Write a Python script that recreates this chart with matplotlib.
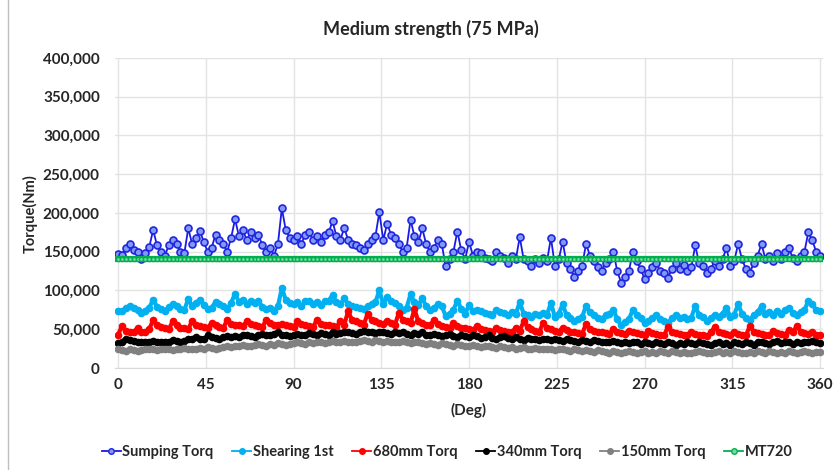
import numpy as np
import matplotlib
matplotlib.use("Agg")
import matplotlib.pyplot as plt
from matplotlib.lines import Line2D
from matplotlib.ticker import FuncFormatter, MultipleLocator

plt.rcParams['font.family'] = ['Lato', 'DejaVu Sans']

deg = np.arange(0, 361, 2)

sumping = [
    147, 146, 155, 160, 152, 150, 140, 148, 156, 178,
    158, 150, 145, 158, 165, 160, 150, 148, 180, 160,
    168, 177, 162, 150, 155, 172, 165, 160, 150, 168,
    192, 170, 178, 165, 175, 168, 172, 158, 150, 155,
    145, 160, 206, 178, 168, 165, 170, 160, 172, 175,
    165, 170, 162, 172, 175, 189, 170, 165, 181, 165,
    160, 158, 155, 152, 160, 165, 170, 201, 165, 186,
    172, 168, 160, 150, 155, 191, 170, 162, 180, 160,
    150, 155, 165, 160, 131, 140, 150, 176, 152, 140,
    163, 145, 150, 148, 142, 140, 138, 150, 145, 142,
    135, 145, 140, 169, 140, 138, 132, 140, 135, 142,
    138, 168, 132, 140, 163, 135, 128, 118, 125, 132,
    160, 145, 138, 130, 125, 135, 140, 150, 125, 110,
    118, 125, 150, 138, 128, 115, 122, 130, 135, 125,
    122, 116, 128, 135, 128, 133, 125, 130, 158, 135,
    132, 122, 128, 138, 132, 140, 155, 132, 138, 160,
    140, 128, 123, 135, 145, 160, 140, 145, 138, 148,
    140, 150, 155, 142, 138, 145, 150, 175, 165, 150,
    145]

shearing = [
    74, 73, 77, 80, 77, 75, 71, 74, 78, 88,
    79, 76, 73, 79, 82, 80, 76, 75, 89, 80,
    84, 88, 81, 76, 78, 85, 82, 80, 76, 84,
    96, 85, 88, 82, 87, 84, 86, 79, 76, 78,
    73, 80, 103, 88, 84, 82, 85, 80, 86, 87,
    82, 85, 81, 86, 87, 94, 85, 82, 90, 82,
    80, 79, 78, 76, 80, 82, 85, 100, 82, 92,
    86, 84, 80, 75, 78, 95, 85, 81, 90, 80,
    75, 78, 82, 80, 67, 70, 75, 87, 76, 70,
    81, 73, 75, 74, 71, 70, 69, 75, 72, 71,
    68, 72, 70, 85, 70, 69, 66, 70, 68, 71,
    69, 84, 66, 70, 82, 68, 64, 60, 63, 66,
    80, 72, 69, 65, 63, 68, 70, 75, 63, 55,
    59, 63, 75, 69, 64, 58, 61, 65, 68, 63,
    61, 58, 64, 68, 64, 66, 63, 65, 80, 68,
    66, 61, 64, 69, 66, 70, 78, 66, 69, 82,
    70, 64, 62, 68, 72, 80, 70, 72, 69, 74,
    70, 75, 78, 71, 69, 72, 75, 86, 82, 75,
    73]

torq680 = [
    43, 54, 48, 47, 46, 52, 47, 46, 50, 62,
    55, 53, 51, 50, 60, 55, 52, 51, 50, 61,
    56, 54, 53, 52, 58, 55, 53, 52, 62, 57,
    56, 55, 54, 60, 57, 55, 54, 53, 62, 58,
    56, 55, 57, 56, 54, 53, 60, 57, 55, 54,
    53, 62, 57, 56, 55, 54, 53, 60, 56, 73,
    62, 60, 58, 56, 70, 62, 60, 58, 57, 60,
    58, 56, 71, 62, 60, 58, 76, 60, 58, 56,
    55, 62, 57, 54, 53, 52, 58, 54, 52, 51,
    50, 49, 54, 50, 49, 48, 47, 52, 49, 48,
    47, 46, 52, 48, 60, 53, 50, 48, 47, 58,
    52, 50, 48, 47, 52, 49, 47, 46, 45, 44,
    57, 50, 48, 47, 46, 45, 44, 50, 46, 45,
    44, 48, 46, 45, 44, 43, 48, 45, 44, 43,
    42, 53, 47, 45, 44, 43, 42, 47, 44, 43,
    42, 41, 46, 53, 47, 45, 44, 43, 47, 44,
    43, 42, 54, 47, 45, 44, 43, 42, 48, 45,
    44, 43, 49, 46, 54, 47, 45, 44, 46, 43,
    42]

torq340 = [
    32, 34, 38, 36, 35, 34, 33, 34, 33, 35,
    34, 33, 33, 34, 36, 35, 34, 35, 37, 38,
    40, 38, 37, 42, 40, 39, 38, 40, 41, 40,
    41, 40, 42, 43, 41, 40, 42, 44, 43, 42,
    44, 46, 43, 42, 41, 43, 44, 42, 43, 45,
    44, 43, 45, 44, 43, 46, 44, 45, 47, 46,
    45, 44, 46, 48, 47, 46, 45, 47, 46, 45,
    44, 46, 45, 47, 44, 43, 45, 44, 46, 43,
    42, 44, 43, 41, 42, 44, 41, 40, 42, 41,
    40, 42, 41, 39, 40, 42, 39, 38, 40, 41,
    39, 38, 40, 37, 36, 39, 38, 37, 36, 38,
    37, 36, 38, 36, 35, 37, 36, 35, 34, 36,
    35, 34, 36, 35, 33, 34, 33, 35, 34, 32,
    33, 32, 34, 33, 31, 34, 32, 31, 33, 32,
    31, 33, 32, 30, 32, 31, 33, 32, 31, 33,
    32, 31, 30, 32, 33, 31, 32, 30, 33, 32,
    31, 33, 32, 30, 34, 33, 32, 31, 33, 35,
    32, 34, 33, 31, 33, 32, 34, 33, 35, 33,
    32]

torq150 = [
    24, 23, 22, 24, 23, 22, 23, 24, 25, 24,
    23, 24, 25, 24, 23, 24, 25, 26, 25, 24,
    25, 26, 25, 27, 26, 25, 26, 27, 28, 27,
    28, 29, 30, 29, 28, 30, 31, 30, 29, 31,
    30, 32, 31, 30, 31, 32, 33, 32, 31, 33,
    32, 34, 33, 32, 34, 35, 34, 33, 35, 34,
    33, 34, 35, 36, 35, 34, 36, 35, 34, 35,
    34, 33, 34, 35, 33, 32, 34, 33, 32, 31,
    32, 31, 30, 32, 31, 30, 29, 31, 30, 29,
    28, 30, 29, 27, 28, 29, 27, 26, 28, 27,
    26, 27, 25, 26, 27, 25, 24, 26, 25, 24,
    25, 24, 23, 25, 24, 23, 22, 24, 23, 22,
    23, 22, 21, 23, 22, 21, 20, 22, 21, 20,
    21, 22, 21, 19, 21, 22, 20, 21, 20, 22,
    21, 20, 22, 21, 20, 21, 19, 20, 21, 22,
    21, 20, 19, 21, 22, 20, 21, 20, 22, 21,
    20, 19, 21, 20, 22, 21, 20, 22, 21, 20,
    21, 20, 22, 21, 20, 21, 22, 21, 20, 21,
    21]

mt720_value = 140  # constant reference line (thousand Nm)
mt720 = [mt720_value] * len(deg)

labels = ['Sumping Torq', 'Shearing 1st', '680mm Torq', '340mm Torq',
          '150mm Torq', 'MT720']
xticks = [0, 45, 90, 135, 180, 225, 270, 315, 360]

fig = plt.figure(figsize=(8.36, 4.70), dpi=100)
ax = fig.add_axes([0.1377, 0.217, 0.8467, 0.660])

scale = 1000
ax.plot(deg, np.array(sumping) * scale, color='#1A1AE6', lw=1.3, marker='o',
        ms=5, mfc='#7D9BF5', mec='#2323E0', mew=1.2, label=labels[0], zorder=3)
ax.plot(deg, np.array(shearing) * scale, color='#00B0F0', lw=3, marker='o',
        ms=4.5, mec='#00B0F0', mfc='#00B0F0', label=labels[1], zorder=3)
ax.plot(deg, np.array(torq680) * scale, color='#FF0000', lw=3, marker='o',
        ms=4.5, mec='#FF0000', mfc='#FF0000', label=labels[2], zorder=3)
ax.plot(deg, np.array(torq340) * scale, color='#000000', lw=3, marker='o',
        ms=4.5, mec='#000000', mfc='#000000', label=labels[3], zorder=3)
ax.plot(deg, np.array(torq150) * scale, color='#808080', lw=3, marker='o',
        ms=4.5, mec='#808080', mfc='#808080', label=labels[4], zorder=3)
ax.plot(deg, np.array(mt720) * scale, color='#00B050', lw=4.5, marker='o',
        ms=3, mec='#00B050', mfc='#7FD8A0', label=labels[5], zorder=4)

ax.set_xlim(-1.5, 361.5)
ax.set_ylim(0, 400000)
ax.set_xticks(xticks)
ax.yaxis.set_major_locator(MultipleLocator(50000))
ax.yaxis.set_major_formatter(FuncFormatter(lambda v, p: f"{int(v):,}"))
ax.grid(True, color='#E3E3E3', lw=1)
ax.set_axisbelow(True)
for s in ['top', 'right', 'left']:
    ax.spines[s].set_visible(False)
ax.spines['bottom'].set_color('#D9D9D9')
ax.tick_params(length=0, labelsize=11)
ax.tick_params(axis='y', pad=11)
ax.tick_params(axis='x', pad=7)
for t in ax.get_xticklabels() + ax.get_yticklabels():
    t.set_fontweight('bold')
    t.set_color('#262626')

ax.set_xlabel('(Deg)', fontsize=11, fontweight='bold', color='#262626', labelpad=8)
fig.text(0.036, 0.545, 'Torque(Nm)', rotation=90, fontsize=10.5, fontweight='bold',
         color='#262626', ha='center', va='center')
fig.text(0.515, 0.938, 'Medium strength (75 MPa)', fontsize=13, fontweight='bold',
         color='#262626', ha='center', va='center')

handles = [
    Line2D([], [], color='#1A1AE6', lw=1.3, marker='o', ms=4, mfc='#7D9BF5', mec='#2323E0'),
    Line2D([], [], color='#00B0F0', lw=1.3, marker='o', ms=4),
    Line2D([], [], color='#FF0000', lw=1.3, marker='o', ms=4),
    Line2D([], [], color='#000000', lw=1.3, marker='o', ms=4),
    Line2D([], [], color='#808080', lw=1.3, marker='o', ms=4),
    Line2D([], [], color='#00B050', lw=1.3, marker='o', ms=4, mfc='#7FD8A0'),
]
leg = fig.legend(handles, labels, loc='center', bbox_to_anchor=(0.535, 0.038), ncol=6,
                 frameon=False, handlelength=1.3, handletextpad=0.1, columnspacing=1.3,
                 prop={'weight': 'bold', 'size': 10.5})
for t in leg.get_texts():
    t.set_color('#262626')

fig.add_artist(Line2D([0.0095, 0.0095], [0, 1], color='#BFBFBF', lw=1,
                      transform=fig.transFigure))

fig.savefig('out.png', dpi=100)
